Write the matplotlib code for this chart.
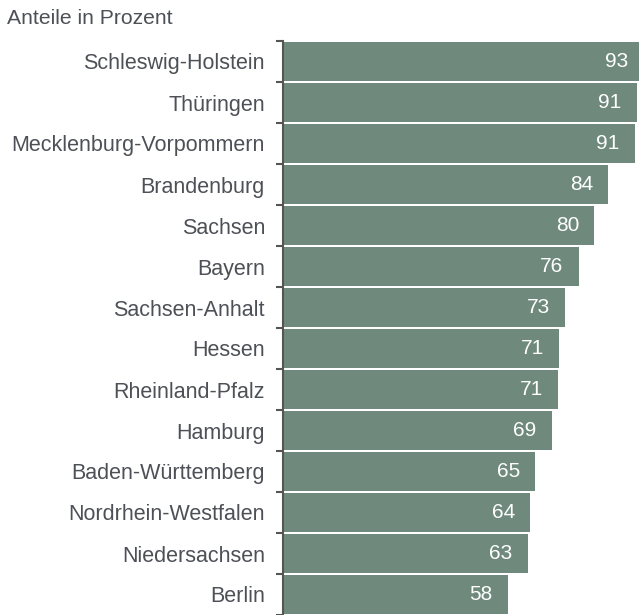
import matplotlib
matplotlib.use("Agg")
import matplotlib.pyplot as plt

# Daten (Anteile in Prozent), von oben nach unten
laender = ["Schleswig-Holstein", "Thüringen", "Mecklenburg-Vorpommern", "Brandenburg",
           "Sachsen", "Bayern", "Sachsen-Anhalt", "Hessen", "Rheinland-Pfalz", "Hamburg",
           "Baden-Württemberg", "Nordrhein-Westfalen", "Niedersachsen", "Berlin"]
werte = [93.0, 91.2, 90.7, 83.9, 80.3, 76.2, 72.8, 71.2, 71.0, 69.3, 65.0, 63.8, 63.1, 58.0]
beschriftung = [93, 91, 91, 84, 80, 76, 73, 71, 71, 69, 65, 64, 63, 58]

plt.rcParams['font.family'] = ['Liberation Sans', 'DejaVu Sans']
textfarbe = "#4d5157"

fig = plt.figure(figsize=(6.39, 6.15), dpi=100)
ax = fig.add_axes([283/639, 0, 1 - 283/639, 574/615])

pos = list(range(len(laender)))
ax.barh(pos, werte, height=0.95, color="#6f8a7d", edgecolor="none")
ax.set_ylim(len(laender) - 0.5, -0.5)
ax.set_xlim(0, (639 - 283) / 3.879)

# Werte in die Balken schreiben
for p, w, b in zip(pos, werte, beschriftung):
    ax.annotate(str(b), xy=(w, p), xytext=(-11, 0), annotation_clip=False,
                textcoords="offset points", ha="right", va="center",
                color="white", fontsize=15)

ax.set_yticks(pos)
ax.set_yticklabels(laender, fontsize=15.5, color=textfarbe)
ax.set_yticks([p + 0.5 for p in [-1] + pos], minor=True)
ax.tick_params(axis="y", which="major", length=0, pad=13)
ax.tick_params(axis="y", which="minor", length=5, width=1.5, color="#555555")
ax.set_xticks([])

for s in ["top", "right", "bottom"]:
    ax.spines[s].set_visible(False)
ax.spines["left"].set_color("#555555")
ax.spines["left"].set_linewidth(1.5)

fig.text(7/639, 1 - 18/615, "Anteile in Prozent", fontsize=15.2, color=textfarbe,
         ha="left", va="center")

fig.savefig("out.png", dpi=100)
